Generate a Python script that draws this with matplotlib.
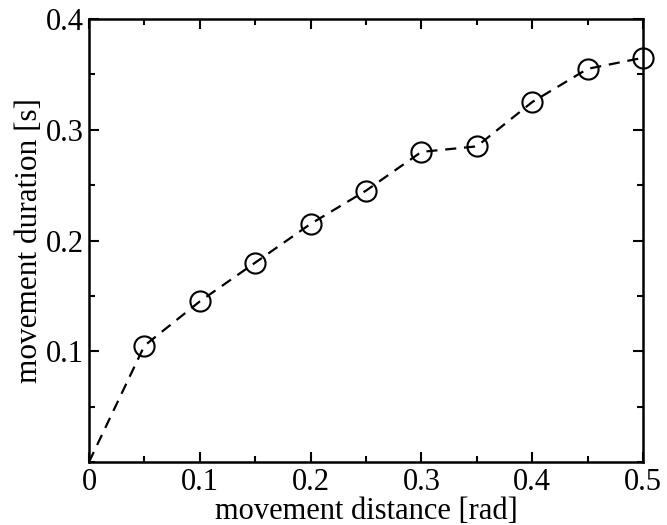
import matplotlib.pyplot as plt
from matplotlib.ticker import MultipleLocator

# data
distance = [0.05, 0.10, 0.15, 0.20, 0.25, 0.30, 0.35, 0.40, 0.45, 0.50]
duration = [0.105, 0.145, 0.180, 0.215, 0.245, 0.280, 0.285, 0.325, 0.355, 0.365]

plt.rcParams['font.family'] = ['Liberation Serif', 'DejaVu Serif']

fig = plt.figure(figsize=(6.67, 5.25), dpi=100)
ax = fig.add_axes([89 / 667, 1 - 462 / 525, (643 - 89) / 667, (462 - 19) / 525])

# dashed line starts at the origin, markers only at measured points
ax.plot([0] + distance, [0] + duration, color='black', linestyle=(0, (5, 3.5)), linewidth=1.6)
ax.plot(distance, duration, linestyle='none', marker='o', markersize=14.5,
        markerfacecolor='none', markeredgecolor='black', markeredgewidth=1.5, clip_on=False)

ax.set_xlim(0, 0.5)
ax.set_ylim(0, 0.4)
ax.xaxis.set_minor_locator(MultipleLocator(0.05))
ax.yaxis.set_minor_locator(MultipleLocator(0.05))
ax.set_xticks([0, 0.1, 0.2, 0.3, 0.4, 0.5])
ax.set_xticklabels(['0', '0.1', '0.2', '0.3', '0.4', '0.5'])
ax.set_yticks([0.1, 0.2, 0.3, 0.4])
ax.set_yticklabels(['0.1', '0.2', '0.3', '0.4'])

ax.tick_params(which='both', direction='in', top=True, right=True, width=1.5, labelsize=22)
ax.tick_params(axis='x', pad=4)
ax.tick_params(axis='y', pad=4)
ax.tick_params(which='major', length=7)
ax.tick_params(which='minor', length=4)
for s in ax.spines.values():
    s.set_linewidth(1.8)

ax.set_xlabel('movement distance [rad]', fontsize=22, labelpad=0)
ax.set_ylabel('movement duration [s]', fontsize=22.5, labelpad=1)

fig.savefig('out.png', dpi=100)
